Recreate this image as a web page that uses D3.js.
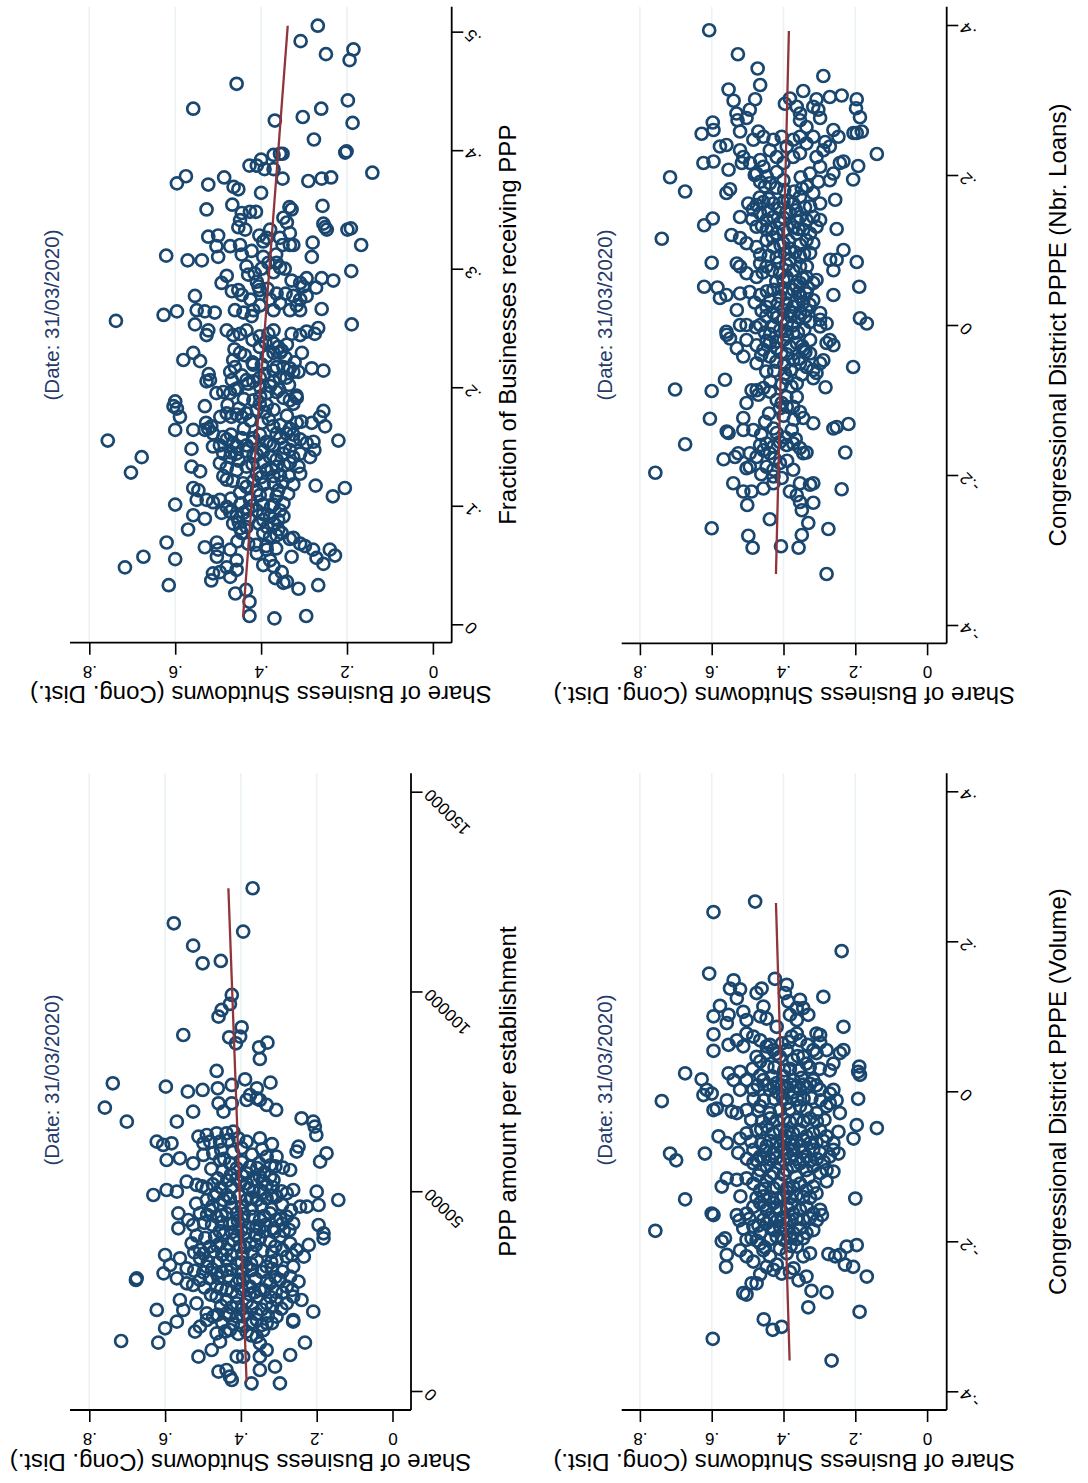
<!DOCTYPE html>
<html>
<head>
<meta charset="utf-8">
<script src="https://cdn.jsdelivr.net/npm/d3@7"></script>
<style>
  body { margin: 0; background: #fff; }
  svg { display: block; }
  text { font-family: "Liberation Sans", Arial, Helvetica, sans-serif; }
</style>
</head>
<body>
<svg id="fig" width="1088" height="1483"></svg>
<script>
// ---- tick values ----
const shareTicks = [0, 0.2, 0.4, 0.6, 0.8];
const fracTicks = [0, 0.1, 0.2, 0.3, 0.4, 0.5];
const pppTicks = [0, 50000, 100000, 150000];
const ppeTicks = [-0.4, -0.2, 0, 0.2, 0.4];

// ---- text ----
const shareTitle = "Share of Business Shutdowns (Cong. Dist.)";
const dateNote = "(Date: 31/03/2020)";
const fracTitle = "Fraction of Businesses receiving PPP";
const pppTitle = "PPP amount per establishment";
const nbrTitle = "Congressional District PPPE (Nbr. Loans)";
const volTitle = "Congressional District PPPE (Volume)";

// ---- districts: [fraction receiving PPP, share of shutdowns] ----
const fracPoints = [
[.505,.268],[.492,.308],[.481,.249],[.485,.185],[.476,.194],[.456,.457],[.435,.558],[.425,.368],[.428,.303],[.435,.260],[.442,.198],[.423,.187],[.409,.277],[.398,.204],[.399,.201],[.381,.141],
[.397,.356],[.396,.371],[.397,.350],[.387,.427],[.387,.410],[.392,.400],[.384,.392],[.384,.371],
[.376,.350],[.374,.290],[.376,.259],[.377,.237],[.372,.596],[.378,.575],[.371,.523],[.377,.486],[.369,.464],[.367,.453],[.364,.400],
[.350,.527],[.354,.467],[.347,.445],[.348,.426],[.348,.412],[.341,.449],[.335,.453],[.333,.437],
[.352,.334],[.350,.329],[.343,.348],[.339,.340],[.353,.257],[.335,.251],[.338,.255],[.333,.247],[.333,.199],[.334,.191],[.320,.167],
[.327,.523],[.328,.500],[.319,.504],[.310,.500],[.319,.472],[.320,.449],[.312,.445],[.315,.422],
[.328,.404],[.323,.395],[.333,.379],[.326,.387],[.326,.356],[.320,.350],[.320,.333],[.320,.325],[.330,.333],
[.322,.280],[.310,.282],[.311,.621],[.307,.571],[.307,.538],[.302,.434],[.295,.430],
[.300,.399],[.305,.383],[.305,.364],[.301,.356],[.297,.371],[.294,.480],[.288,.492],[.281,.468],[.282,.453],
[.289,.410],[.282,.403],[.285,.406],[.290,.329],[.288,.309],[.292,.294],[.285,.302],
[.292,.259],[.290,.232],[.298,.190],[.284,.272],[.277,.554],
[.279,.364],[.279,.343],[.277,.325],[.274,.309],[.277,.294],[.269,.317],[.265,.333],[.265,.309],
[.274,.379],[.271,.356],[.265,.371],[.269,.403],[.265,.418],[.266,.259],
[.265,.550],[.264,.531],[.263,.508],[.264,.596],[.261,.627],[.256,.738],[.265,.461],[.263,.441],[.260,.422],
[.253,.189],[.253,.554],[.248,.523],
[.244,.527],[.248,.480],[.244,.465],[.245,.449],[.248,.434],[.243,.403],[.245,.383],[.248,.371],
[.245,.329],[.244,.309],[.247,.294],[.245,.275],[.250,.267],
[.234,.403],[.237,.371],[.234,.360],[.231,.352],[.229,.371],[.226,.387],[.229,.356],[.229,.305],
[.229,.449],[.223,.465],[.217,.461],[.213,.472],[.206,.468],[.229,.558],[.222,.542],[.223,.581],
[.219,.418],[.206,.434],[.205,.418],[.208,.403],[.211,.522],[.205,.527],[.206,.519],
[.214,.371],[.217,.364],[.217,.348],[.216,.333],[.213,.325],[.213,.313],[.208,.341],[.208,.356],[.205,.371],
[.216,.282],[.214,.255],[.201,.379],[.195,.387],[.196,.364],[.195,.504],[.196,.488],[.195,.472],[.198,.461],
[.189,.418],[.186,.403],[.185,.387],[.179,.391],[.181,.371],[.181,.410],[.178,.434],[.175,.445],[.177,.457],[.175,.469],
[.191,.348],[.189,.333],[.186,.325],[.191,.317],[.188,.600],[.182,.596],[.175,.589],[.184,.604],[.164,.600],
[.184,.531],[.175,.495],[.178,.480],[.175,.263],[.180,.255],[.167,.251],
[.170,.528],[.167,.516],[.164,.531],[.161,.512],[.165,.523],[.164,.558],[.148,.562],
[.170,.282],[.170,.317],[.165,.333],[.161,.341],[.160,.325],[.156,.309],[.153,.294],[.154,.278],[.147,.276],
[.158,.488],[.156,.480],[.151,.496],[.150,.512],[.153,.465],
[.157,.445],[.151,.434],[.157,.418],[.160,.403],[.154,.387],[.151,.371],[.157,.356],[.161,.364],
[.155,.220],[.155,.757],[.141,.678],[.128,.703],
[.144,.488],[.141,.472],[.144,.457],[.146,.434],[.143,.410],[.146,.395],[.141,.379],[.139,.364],[.144,.348],[.147,.333],[.141,.325],[.144,.309],[.141,.286],
[.133,.562],[.129,.542],[.115,.558],[.113,.546],[.105,.550],[.105,.527],[.103,.512],
[.136,.496],[.132,.480],[.125,.488],[.122,.480],[.130,.457],[.133,.434],[.127,.410],[.130,.387],
[.133,.364],[.125,.371],[.126,.356],[.136,.333],[.133,.313],[.127,.309],
[.118,.325],[.110,.337],[.117,.273],[.115,.205],[.108,.233],
[.116,.434],[.113,.410],[.109,.403],[.105,.426],[.111,.449],
[.113,.360],[.108,.364],[.102,.348],[.101,.371],[.096,.356],[.101,.600],
[.105,.496],[.099,.480],[.094,.492],[.095,.472],[.091,.457],[.094,.441],
[.096,.410],[.088,.395],[.091,.379],[.085,.371],[.088,.360],[.091,.348],
[.092,.558],[.089,.531],[.080,.570],[.085,.465],[.081,.449],[.077,.445],[.082,.434],
[.077,.395],[.074,.379],[.075,.364],[.077,.352],[.073,.325],[.066,.298],
[.069,.620],[.057,.674],[.048,.717],[.055,.600],[.033,.615],
[.065,.531],[.069,.503],[.063,.500],[.057,.503],
[.063,.472],[.054,.457],[.048,.480],[.044,.496],[.043,.512],[.037,.516],[.040,.472],[.046,.457],
[.060,.410],[.050,.395],[.063,.387],[.054,.379],[.049,.371],[.044,.352],[.039,.367],[.035,.348],[.036,.340],
[.072,.333],[.057,.329],[.068,.309],[.063,.279],[.056,.271],[.051,.255],[.063,.240],[.058,.228],
[.030,.313],[.033,.267],[.026,.460],[.029,.435],[.019,.427],[.007,.427],[.005,.369],[.007,.295],
[.232,.462],[.227,.438],[.221,.420],[.219,.398],[.225,.343],[.221,.322],[.199,.455],[.203,.430],[.200,.402],[.198,.358],[.202,.335],[.193,.318],
[.185,.478],[.182,.452],[.172,.425],[.170,.398],[.173,.382],[.168,.355],[.176,.340],[.171,.306],
[.160,.470],[.150,.455],[.154,.420],[.148,.400],[.152,.380],[.149,.345],[.155,.326],
[.138,.452],[.135,.420],[.137,.395],[.131,.376],[.134,.346],
[.121,.466],[.119,.442],[.121,.418],[.118,.394],[.119,.370],[.120,.350],
[.106,.470],[.102,.447],[.100,.420],[.101,.396],[.099,.377],
[.086,.452],[.089,.428],[.085,.405],[.082,.386],[.080,.360],
[.070,.455],[.068,.430],[.067,.412],[.066,.388],[.064,.365],
[.278,.445],[.274,.425],[.283,.385],[.296,.415],[.300,.345],[.310,.395],[.312,.365],
[.240,.420],[.238,.390],[.236,.340],[.210,.445],[.211,.392],[.190,.440],[.192,.402],[.165,.440],
[.167,.372],[.145,.470],[.142,.418],[.124,.400],[.125,.335],[.110,.385],[.097,.430],[.093,.395]
];

// ---- districts: [PPP amount per establishment, share of shutdowns] ----
const pppPoints = [
[125830,.369],[117060,.577],[114980,.394],[111470,.526],[107050,.501],[107640,.453],
[99130,.424],[96870,.429],[95370,.451],[93700,.459],[89110,.552],
[91030,.398],[88700,.402],[88530,.431],[87030,.413],
[86030,.352],[87190,.330],[83110,.350],[80100,.464],[77020,.738],
[76180,.598],[74930,.540],[75350,.501],[75760,.461],
[76600,.424],[78020,.389],[75760,.358],[77180,.322],
[74090,.376],[73260,.358],[72840,.385],[72840,.350],
[70920,.759],[72010,.459],[72010,.424],[71590,.332],[70340,.307],
[69920,.526],[69920,.446],[68250,.240],[67420,.209],[67420,.701],[67420,.569],
[66170,.205],[64080,.201],
[62410,.622],[61580,.605],[62000,.583],[57820,.596],
[63670,.512],[64080,.490],[64500,.464],[64500,.438],[64920,.420],[62000,.499],[62410,.481],[62410,.455],[62830,.433],[63250,.407],
[62410,.385],[63250,.350],[61160,.248],[59910,.253],[59490,.174],[57410,.191],
[58660,.332],[58660,.306],[55320,.270],
[58240,.561],[56990,.526],[59080,.499],[59490,.473],[57820,.455],[56990,.429],[55740,.411],
[56150,.376],[54490,.385],
[52400,.543],[51570,.517],[49900,.569],[49060,.631],[50310,.596],
[50730,.490],[49480,.464],[49060,.438],[47810,.490],[47810,.446],
[51980,.385],[49900,.367],[50310,.350],[51570,.332],[52820,.314],[53650,.323],[53650,.350],[52820,.367],
[47810,.385],[47810,.358],[48230,.332],[48650,.306],[49480,.279],[50310,.262],[46140,.244],[46140,.226],
[49900,.200],[47810,.143],[46560,.195],
[44470,.565],[40720,.565],[42800,.539],[41550,.526],[44470,.508],[45310,.482],[43640,.464],[44470,.438],
[44470,.411],[41970,.420],[42800,.394],[43640,.367],[42800,.350],[44470,.323],[42800,.306],[43640,.279],[41970,.262],
[41550,.195],[39470,.182],[38220,.182],[36550,.221],[33620,.234],
[36970,.530],[35300,.508],[36130,.482],[36970,.455],[35300,.438],[37800,.420],[36130,.402],[36970,.376],[38220,.350],[37380,.323],[38640,.297],[36970,.270],[35300,.253],
[34040,.600],[29450,.604],[33210,.561],[31540,.587],[30710,.543],[33210,.508],[31120,.490],[29450,.464],[30290,.438],[31960,.411],[31120,.385],[32790,.358],[31120,.332],[32790,.306],[33620,.279],[31120,.262],[28620,.270],[27370,.248],
[28200,.675],[27790,.677],
[28200,.569],[26950,.543],[26530,.526],[27790,.508],[28200,.482],[26120,.464],[25280,.438],[26950,.411],[27790,.394],[26120,.376],[25280,.350],[26950,.323],[27790,.297],[26120,.279],
[23610,.464],[22780,.438],[21940,.411],[22360,.385],[23610,.358],[21940,.332],[22780,.306],[21940,.279],[22780,.240],[19860,.209],[23610,.262],
[22780,.561],[20280,.552],[21940,.517],[19440,.490],[20280,.622],[15690,.600],[17360,.569],
[16100,.508],[14850,.521],[17770,.490],[18610,.473],[19440,.438],[18610,.411],[19440,.385],[17770,.358],[16940,.332],[18610,.306],[17770,.262],
[14430,.464],[15270,.429],[14850,.385],[13600,.358],[11930,.350],[10260,.332],[17360,.262],
[12520,.716],[12100,.618],
[8594,.512],[10260,.477],[12350,.455],[8594,.411],[8594,.394],
[8594,.350],[9010,.270],[12100,.231],
[4840,.459],[3590,.429],[2750,.424],[5260,.438],[1920,.372],[5260,.350],[6090,.310],[1920,.297],
[60300,.452],[59800,.421],[60800,.398],[59200,.371],[60500,.344],[61800,.318],
[55600,.478],[55100,.448],[54200,.426],[53900,.397],[55800,.357],[54700,.338],[56200,.309],[55900,.289],
[51200,.502],[51700,.474],[50900,.452],[51100,.425],[52200,.401],[50700,.379],[49600,.341],[51000,.316],[50000,.293],
[46900,.518],[46300,.475],[46800,.455],[45900,.424],[46100,.398],[45700,.372],[46300,.346],[45500,.319],[46600,.291],[45200,.268],
[42100,.497],[41600,.476],[42300,.451],[41800,.429],[42600,.408],[40900,.381],[41300,.359],[41500,.336],[40700,.313],[41900,.291],[40300,.272],
[38900,.517],[38300,.494],[38600,.468],[39100,.446],[38800,.410],[39500,.389],[39000,.362],[39900,.338],[39800,.312],[40100,.287],
[34700,.523],[34400,.498],[34900,.472],[34100,.449],[33900,.425],[34300,.396],[34700,.370],[35100,.343],[34800,.317],[35300,.290],[34100,.265],
[30100,.523],[29700,.499],[30500,.476],[29800,.451],[30400,.425],[29900,.398],[30300,.371],[29800,.345],[30600,.318],[29900,.290],
[25900,.496],[25600,.452],[24900,.424],[25500,.398],[24700,.364],[25200,.338],[24800,.308],[24600,.290],[25300,.265],
[21300,.452],[20900,.425],[20500,.398],[21100,.370],[20400,.345],[21000,.318],[20600,.293],
[17100,.449],[16800,.421],[16300,.398],[17200,.371],[16500,.345],[17000,.318],
[58100,.444],[57300,.398],[57000,.352],[56500,.322],[53200,.461],[52700,.436],[53100,.412],[52600,.343],
[48700,.470],[48200,.429],[48800,.404],[48400,.371],[48900,.318],[44100,.489],[43900,.451],[44300,.392],
[43800,.339],[43100,.296],[40000,.456],[39700,.424],[40200,.399],[40500,.351],[36400,.463],[36800,.432],
[36000,.389],[36500,.361],[36200,.309],[32400,.487],[32100,.462],[32700,.437],[32200,.398],[31800,.373],
[32300,.320],[28300,.459],[28700,.433],[27900,.404],[28100,.361],[27600,.331],[28500,.309],[24100,.479],
[23800,.412],[24200,.377],[23500,.322],[19100,.462],[18900,.431],[18700,.394],[19300,.359],[18800,.329],
[14900,.441],[14300,.407],[13900,.372],[15200,.341]
];

// ---- districts: [PPPE, number of loans, share of shutdowns] ----
const nbrPoints = [
[.393,.607],[.361,.527],[.342,.472],[.332,.289],
[.314,.553],[.320,.465],[.301,.479],[.299,.539],
[.312,.345],[.301,.308],[.304,.271],[.306,.238],[.301,.196],[.289,.198],[.277,.187],[.256,.196],
[.295,.396],[.302,.382],[.291,.363],[.282,.354],[.291,.317],[.287,.303],[.276,.298],[.273,.354],[.264,.336],
[.282,.531],[.276,.503],[.287,.494],[.273,.528],[.270,.597],[.260,.595],[.255,.628],
[.258,.521],[.258,.470],[.251,.456],[.247,.484],
[.238,.577],[.240,.559],[.233,.521],[.224,.512],[.216,.493],[.216,.516],
[.247,.428],[.251,.405],[.238,.391],[.247,.373],[.251,.354],[.242,.336],[.251,.317],[.229,.354],[.224,.373],[.216,.400],[.224,.419],[.233,.438],
[.244,.284],[.260,.261],[.251,.247],[.238,.271],[.233,.289],[.224,.308],
[.256,.205],[.258,.182],[.228,.140],
[.216,.243],[.218,.233],[.202,.261],[.193,.271],[.211,.298],[.202,.326],[.191,.303],
[.212,.192],[.194,.206],[.216,.623],[.218,.595],[.207,.553],
[.220,.465],[.211,.456],[.202,.475],[.198,.447],[.204,.419],[.193,.400],[.189,.438],[.191,.465],
[.197,.716],[.178,.674],[.115,.739],[.176,.559],[.181,.549],
[.162,.498],[.160,.475],[.164,.456],[.162,.428],[.164,.400],[.162,.373],[.182,.349],[.171,.354],[.176,.317],[.162,.298],[.158,.326],[.167,.256],
[.144,.521],[.149,.465],[.140,.447],[.144,.428],[.136,.410],[.131,.475],[.127,.447],[.122,.419],
[.149,.382],[.144,.354],[.140,.336],[.144,.317],[.127,.345],[.122,.326],[.122,.363],[.131,.308],[.140,.298],
[.133,.621],[.142,.597],[.128,.252],
[.120,.545],[.116,.521],[.109,.503],[.104,.475],
[.113,.447],[.104,.428],[.109,.400],[.102,.382],[.107,.354],[.113,.336],[.109,.317],[.096,.326],[.091,.354],[.087,.382],
[.087,.270],[.073,.261],[.087,.252],[.100,.233],[.084,.196],
[.083,.600],[.082,.530],[.078,.521],[.069,.503],[.064,.475],[.082,.465],[.078,.447],
[.069,.410],[.064,.391],[.073,.373],[.078,.354],[.064,.336],[.056,.317],[.060,.308],[.056,.354],
[.051,.621],[.050,.584],[.036,.577],[.040,.559],[.020,.530],[.042,.521],[.044,.494],[.040,.465],
[.047,.428],[.038,.410],[.042,.391],[.047,.373],[.038,.354],[.042,.336],[.033,.317],[.040,.261],[.051,.189],
[.024,.447],[.016,.428],[.020,.400],[.024,.373],[.016,.354],[.020,.336],[.016,.298],[.009,.187],[.002,.168],
[-.009,.559],[.000,.521],[.000,.503],[.000,.465],[.002,.391],[.004,.326],[.007,.298],[.002,.280],
[-.013,.558],[-.018,.549],[-.031,.530],[-.042,.512],
[-.020,.503],[-.027,.475],[-.033,.456],[-.024,.438],[-.031,.419],[-.020,.400],[-.029,.382],[-.024,.363],[-.033,.345],[-.038,.326],[-.051,.475],[-.042,.438],
[-.007,.410],[-.013,.391],[-.011,.373],[-.002,.428],
[-.020,.326],[-.002,.298],[-.020,.271],[-.027,.261],[-.024,.280],
[-.047,.373],[-.051,.354],[-.056,.336],[-.060,.317],[-.051,.298],[-.047,.289],[-.064,.308],[-.071,.317],
[-.056,.206],[-.086,.702],[-.088,.600],[-.073,.563],
[-.087,.489],[-.087,.475],[-.084,.456],[-.089,.438],[-.100,.419],[-.104,.405],[-.109,.391],[-.111,.410],
[-.104,.503],[-.071,.391],[-.078,.363],[-.096,.363],[-.109,.373],[-.116,.354],[-.124,.345],
[-.083,.283],
[-.125,.605],[-.124,.512],[-.140,.484],[-.140,.512],[-.142,.558],[-.144,.553],[-.129,.451],
[-.138,.428],[-.144,.419],[-.140,.377],[-.131,.317],
[-.138,.261],[-.136,.252],[-.132,.219],[-.159,.674],[-.170,.228],
[-.160,.465],[-.167,.456],[-.158,.447],[-.171,.438],[-.162,.428],[-.156,.410],[-.160,.391],[-.158,.373],[-.164,.354],[-.171,.345],[-.170,.336],
[-.179,.567],[-.176,.535],[-.171,.526],[-.171,.494],[-.176,.475],
[-.191,.503],[-.189,.494],[-.189,.447],[-.193,.428],[-.184,.410],[-.193,.373],[-.202,.428],
[-.197,.757],
[-.211,.540],[-.222,.512],[-.222,.489],[-.218,.456],[-.211,.428],[-.204,.405],
[-.211,.354],[-.213,.326],[-.211,.317],[-.222,.382],[-.227,.363],[-.236,.354],[-.247,.349],[-.237,.317],[-.264,.331],
[-.219,.238],[-.240,.501],[-.259,.438],
[-.271,.600],[-.281,.498],[-.297,.486],[-.295,.407],[-.297,.358],[-.280,.349],[-.272,.275],[-.332,.280],
[.185,.452],[.183,.420],[.180,.398],[.178,.370],[.185,.335],
[.154,.485],[.152,.442],[.155,.413],[.150,.392],[.153,.365],[.157,.340],
[.132,.460],[.128,.433],[.126,.399],[.130,.372],[.128,.358],
[.094,.465],[.092,.441],[.090,.419],[.095,.396],[.097,.368],[.095,.343],
[.070,.458],[.073,.432],[.058,.420],[.060,.400],[.053,.365],[.062,.346],[.050,.332],
[.030,.480],[.032,.437],[.028,.416],[.029,.392],[.031,.366],[.030,.345],[.027,.327],
[.012,.448],[.010,.418],[.008,.400],[.012,.380],[.010,.358],[.011,.340],
[-.010,.452],[-.012,.437],[-.008,.395],[-.010,.360],[-.006,.342],
[-.040,.462],[-.037,.406],[-.039,.391],[-.045,.356],[-.036,.339],
[-.062,.448],[-.061,.426],[-.065,.396],[-.060,.380],[-.066,.349],
[.200,.480],[.197,.352],[.170,.466],[.168,.441],[.166,.388],[.141,.487],[.143,.400],[.139,.362],
[.117,.430],[.112,.385],[.106,.408],[.083,.414],[.080,.392],[.078,.335],[.045,.446],[.048,.405],
[.043,.358],[.019,.461],[.018,.380],[-.003,.477],[-.001,.375],[-.021,.447],[-.022,.420],[-.028,.348],
[-.049,.420],[-.053,.398],[-.075,.437],[-.079,.405],[-.082,.378],[-.093,.470],[-.096,.392],[-.118,.440],
[-.121,.400],[-.126,.371],[-.146,.462],[-.150,.395],[-.152,.366],[-.178,.425],[-.181,.390],[-.199,.462]
];

// ---- districts: [PPPE, volume, share of shutdowns] ----
const volPoints = [
[.253,.479],[.239,.595],[.187,.238],[.157,.607],[.150,.424],
[.148,.539],[.137,.549],[.136,.521],[.124,.530],[.137,.461],[.131,.475],
[.142,.391],[.131,.396],[.120,.387],[.122,.354],[.111,.345],[.111,.363],[.126,.289],
[.114,.577],[.100,.595],[.102,.553],[.091,.558],[.106,.512],[.095,.503],
[.113,.456],[.100,.465],[.097,.447],[.086,.419],[.102,.382],[.095,.363],[.102,.331],
[.076,.595],[.054,.595],[.062,.553],[.068,.530],[.060,.512],[.077,.503],[.073,.484],[.068,.465],[.060,.447],
[.073,.377],[.068,.354],[.077,.363],[.077,.308],[.075,.298],[.055,.317],[.051,.308],[.055,.280],
[.086,.233],[.055,.233],[.051,.243],[.037,.261],[.028,.271],
[.046,.475],[.040,.465],[.051,.447],[.055,.428],[.046,.410],[.055,.391],[.042,.373],[.046,.345],[.037,.336],
[.033,.189],[.022,.187],[.026,.192],[-.010,.192],
[.024,.674],[.016,.628],[.002,.614],[-.005,.623],[-.003,.600],[-.013,.739],
[.024,.553],[.015,.539],[.026,.521],[.015,.503],[.002,.521],[.002,.484],
[.015,.456],[.002,.438],[.011,.419],[.020,.400],[.006,.391],[.015,.373],[.002,.354],[.006,.336],[.015,.317],[.002,.298],[-.003,.271],[.002,.261],[-.012,.252],[-.016,.271],
[-.025,.595],[-.023,.586],[-.012,.558],[-.027,.544],[-.029,.530],[-.025,.503],
[-.020,.465],[-.029,.438],[-.025,.410],[-.016,.391],[-.020,.354],[-.025,.336],[-.029,.308],[-.020,.280],[-.029,.243],
[-.045,.196],[-.049,.140],[-.063,.205],
[-.060,.581],[-.069,.558],[-.083,.619],[-.083,.716],[-.092,.699],
[-.063,.521],[-.056,.503],[-.052,.475],[-.047,.447],[-.056,.428],[-.052,.410],[-.060,.391],[-.056,.373],[-.052,.354],[-.060,.336],[-.056,.317],[-.052,.298],[-.060,.280],[-.069,.261],[-.054,.247],[-.083,.247],
[-.082,.526],[-.078,.484],[-.087,.465],[-.073,.447],[-.082,.428],[-.073,.410],[-.082,.391],[-.078,.373],[-.073,.354],[-.087,.336],[-.078,.317],[-.082,.298],[-.087,.271],[-.078,.261],
[-.096,.484],[-.105,.465],[-.100,.447],[-.109,.428],[-.096,.410],[-.105,.391],[-.100,.373],[-.096,.354],[-.105,.336],[-.100,.317],[-.109,.298],[-.105,.280],[-.107,.261],[-.120,.280],
[-.116,.558],[-.118,.530],[-.127,.572],[-.116,.503],[-.123,.484],[-.132,.465],[-.120,.447],[-.129,.428],[-.123,.410],[-.134,.391],[-.127,.373],[-.123,.354],[-.132,.336],[-.127,.317],[-.136,.308],
[-.144,.674],[-.143,.200],
[-.163,.600],[-.165,.595],[-.165,.530],[-.163,.503],[-.154,.484],[-.149,.465],[-.158,.447],[-.149,.428],[-.158,.410],[-.154,.391],[-.163,.373],[-.158,.354],[-.154,.336],[-.163,.317],[-.158,.298],[-.165,.293],
[-.186,.757],[-.196,.563],[-.200,.572],[-.183,.512],[-.198,.503],[-.180,.484],[-.189,.465],[-.176,.447],[-.185,.428],[-.180,.410],[-.176,.391],[-.189,.373],[-.183,.354],[-.189,.336],[-.185,.317],[-.203,.465],
[-.218,.558],[-.234,.560],[-.212,.521],[-.220,.503],[-.227,.484],[-.212,.456],[-.220,.438],[-.231,.419],[-.216,.391],[-.207,.363],[-.220,.345],[-.216,.326],[-.234,.447],[-.243,.405],[-.238,.428],
[-.217,.275],[-.220,.256],[-.218,.243],[-.207,.224],[-.205,.196],[-.231,.229],[-.234,.206],[-.247,.168],
[-.252,.358],[-.247,.336],[-.256,.475],[-.256,.489],[-.269,.512],[-.271,.503],
[-.266,.322],[-.268,.280],[-.288,.331],[-.294,.188],
[-.304,.455],[-.318,.430],[-.314,.405],
[-.330,.597],[-.359,.266],
[.062,.438],[.064,.404],[.066,.385],[.062,.333],[.065,.298],
[.030,.486],[.033,.445],[.032,.425],[.028,.398],[.030,.382],[.028,.356],[.032,.327],[.030,.299],
[.008,.472],[.009,.447],[.006,.428],[.008,.405],[.009,.381],[.007,.363],[.009,.345],[.010,.326],[.008,.308],
[-.010,.483],[-.012,.455],[-.010,.426],[-.009,.402],[-.008,.378],[-.011,.362],[-.010,.344],[-.009,.322],[-.012,.296],
[-.038,.490],[-.040,.460],[-.036,.437],[-.039,.419],[-.037,.399],[-.041,.382],[-.038,.364],[-.040,.344],[-.036,.326],[-.040,.307],[-.038,.286],
[-.067,.490],[-.070,.462],[-.066,.438],[-.068,.419],[-.066,.400],[-.070,.381],[-.067,.363],[-.065,.344],[-.069,.326],[-.068,.308],[-.066,.289],
[-.090,.502],[-.092,.475],[-.090,.456],[-.091,.437],[-.089,.420],[-.092,.400],[-.089,.382],[-.090,.363],[-.091,.345],[-.093,.326],[-.090,.307],[-.094,.288],
[-.140,.520],[-.142,.475],[-.140,.456],[-.141,.438],[-.143,.419],[-.140,.400],[-.142,.382],[-.139,.364],[-.141,.345],[-.142,.326],
[-.172,.523],[-.170,.495],[-.171,.456],[-.169,.438],[-.173,.419],[-.170,.400],[-.172,.383],[-.170,.364],[-.171,.345],[-.169,.327],[-.172,.307],
[-.196,.489],[-.199,.475],[-.197,.437],[-.194,.419],[-.198,.400],[-.195,.382],[-.197,.363],[-.196,.345],
[-.244,.465],[-.241,.382],[-.236,.372],
[.050,.420],[.047,.360],[.021,.465],[.020,.432],[.018,.350],[-.002,.415],[-.001,.372],[-.026,.470],
[-.024,.383],[-.051,.462],[-.053,.390],[-.079,.450],[-.076,.400],[-.081,.345],[-.112,.470],[-.113,.437],
[-.111,.400],[-.114,.365],[-.115,.330],[-.130,.452],[-.129,.390],[-.152,.455],[-.155,.420],[-.151,.378],
[-.179,.470],[-.182,.430],[-.184,.392],[-.208,.452],[-.210,.410],[-.206,.380]
];

// ---- linear fits: endpoints [x, fitted share] ----
const fracFit = [[0.0064, 0.442], [0.505, 0.338]];
const pppFit = [[2330, 0.385], [125830, 0.433]];
const nbrFit = [[-0.332, 0.421], [0.392, 0.385]];
const volFit = [[-0.359, 0.383], [0.251, 0.421]];

// ---- drawing ----
const navy = "#1a476f";
const maroon = "#90353b";
const gridCol = "#eaf2f3";

const stataFmt = d => d === 0 ? "0" : String(+d.toFixed(3)).replace(/^(-?)0\./, "$1.");

// Each panel is laid out landscape-style and turned a quarter turn:
// the horizontal variable runs upward, the share axis runs right-to-left.
const panels = [
  { pts: fracPoints, fit: fracFit, ticks: fracTicks, fmt: stataFmt, xDom: [0, 0.5], xRng: [624.3, 31.65],
    sRng: [432.9, 89.3], axX: 451.7, axY: 642.7, top: 6.7, left: 70, title: fracTitle, titleX: 508, dateX: 52, dateY: 315 },
  { pts: pppPoints, fit: pppFit, ticks: pppTicks, fmt: d => String(d), xDom: [0, 150000], xRng: [1391, 791.7],
    sRng: [392.5, 89.3], axX: 411, axY: 1410, top: 773.3, left: 70, title: pppTitle, titleX: 508, dateX: 52, dateY: 1080 },
  { pts: nbrPoints, fit: nbrFit, ticks: ppeTicks, fmt: stataFmt, xDom: [-0.4, 0.4], xRng: [625, 25],
    sRng: [927.1, 639.9], axX: 946.7, axY: 643.3, top: 6.7, left: 621.7, title: nbrTitle, titleX: 1058, dateX: 605, dateY: 315 },
  { pts: volPoints, fit: volFit, ticks: ppeTicks, fmt: stataFmt, xDom: [-0.4, 0.4], xRng: [1391.3, 791.3],
    sRng: [927.1, 639.9], axX: 946.7, axY: 1410, top: 773.3, left: 621.7, title: volTitle, titleX: 1058, dateX: 605, dateY: 1080 }
];

const svg = d3.select("#fig");
svg.append("rect").attr("width", 1088).attr("height", 1483).attr("fill", "#fff");

panels.forEach(p => {
  const xs = d3.scaleLinear().domain(p.xDom).range(p.xRng);
  const ss = d3.scaleLinear().domain([0, 0.8]).range(p.sRng);
  const g = svg.append("g");

  // grid lines at the share ticks
  g.append("g").selectAll("line").data(shareTicks.filter(t => t > 0)).join("line")
    .attr("x1", d => ss(d)).attr("x2", d => ss(d))
    .attr("y1", p.top).attr("y2", p.axY)
    .attr("stroke", gridCol).attr("stroke-width", 1.6);

  // scatter
  g.append("g").selectAll("circle").data(p.pts).join("circle")
    .attr("cx", d => ss(d[1])).attr("cy", d => xs(d[0]))
    .attr("r", 6).attr("fill", "none").attr("stroke", navy).attr("stroke-width", 2.7);

  // fitted line
  g.append("path").datum(p.fit)
    .attr("d", d3.line().x(d => ss(d[1])).y(d => xs(d[0])))
    .attr("fill", "none").attr("stroke", maroon).attr("stroke-width", 2.3);

  // share axis (drawn along the bottom edge)
  const sAxis = g.append("g").attr("transform", `translate(0,${p.axY})`)
    .call(d3.axisBottom(ss).tickValues(shareTicks).tickSize(12).tickFormat(stataFmt));
  sAxis.select(".domain").remove();
  sAxis.selectAll(".tick line").attr("stroke", "#000").attr("stroke-width", 1.6);
  sAxis.selectAll(".tick text")
    .attr("y", 0).attr("dy", "0.35em")
    .attr("transform", "translate(0,29) rotate(180)")
    .attr("fill", "#000").style("font-size", "17px");

  // horizontal-variable axis (drawn along the right edge)
  const xAxis = g.append("g").attr("transform", `translate(${p.axX},0)`)
    .call(d3.axisRight(xs).tickValues(p.ticks).tickSize(11.6).tickFormat(p.fmt));
  xAxis.select(".domain").remove();
  xAxis.selectAll(".tick line").attr("stroke", "#000").attr("stroke-width", 1.6);
  xAxis.selectAll(".tick text")
    .attr("x", 0).attr("dy", "0.35em")
    .attr("transform", "translate(16,0) rotate(-135)")
    .attr("text-anchor", "end")
    .attr("fill", "#000").style("font-size", "17px");

  // axis lines
  g.append("line").attr("x1", p.left).attr("x2", p.axX).attr("y1", p.axY).attr("y2", p.axY)
    .attr("stroke", "#000").attr("stroke-width", 1.8);
  g.append("line").attr("x1", p.axX).attr("x2", p.axX).attr("y1", p.top).attr("y2", p.axY)
    .attr("stroke", "#000").attr("stroke-width", 1.8);

  // titles
  g.append("text").text(shareTitle)
    .attr("transform", `translate(${(p.left + p.axX) / 2},${p.axY + 52}) rotate(180)`)
    .attr("text-anchor", "middle").attr("dy", "0.35em").style("font-size", "24px").attr("fill", "#000");
  g.append("text").text(p.title)
    .attr("transform", `translate(${p.titleX},${(p.top + p.axY) / 2}) rotate(-90)`)
    .attr("text-anchor", "middle").attr("dy", "0.35em").style("font-size", "24px").attr("fill", "#000");
  g.append("text").text(dateNote)
    .attr("transform", `translate(${p.dateX},${p.dateY}) rotate(-90)`)
    .attr("text-anchor", "middle").attr("dy", "0.35em").style("font-size", "20.5px").attr("fill", "#253a6a");
});
</script>
</body>
</html>
